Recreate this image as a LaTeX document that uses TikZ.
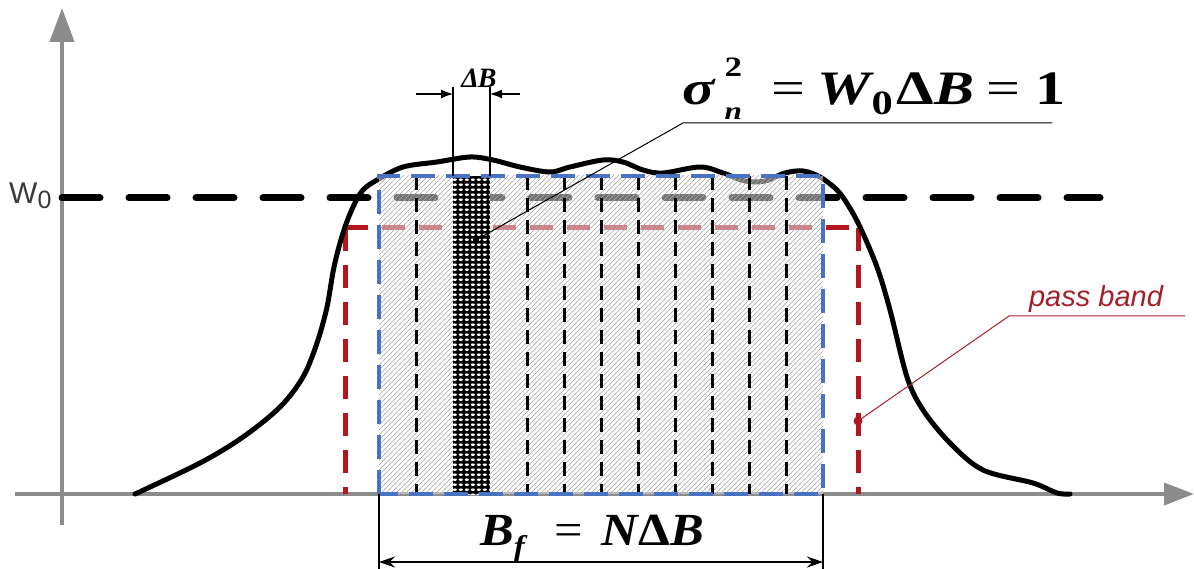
\documentclass[tikz,border=0pt]{standalone}
\usepackage{fontspec}
\setmainfont{Liberation Serif}
\newfontfamily\labfont{Liberation Sans}
\usetikzlibrary{patterns,arrows.meta}

\pgfdeclarepatternformonly{hatchfive}{\pgfqpoint{-1pt}{-1pt}}{\pgfqpoint{6pt}{6pt}}{\pgfqpoint{5pt}{5pt}}{%
  \pgfsetlinewidth{0.7pt}\pgfpathmoveto{\pgfqpoint{-0.5pt}{-0.5pt}}\pgfpathlineto{\pgfqpoint{5.5pt}{5.5pt}}\pgfusepath{stroke}}
\pgfdeclarepatternformonly{banddots}{\pgfqpoint{0pt}{0pt}}{\pgfqpoint{6.2pt}{4.8pt}}{\pgfqpoint{6.2pt}{4.8pt}}{%
  \pgfpathellipse{\pgfqpoint{3.1pt}{2.4pt}}{\pgfqpoint{2.3pt}{0pt}}{\pgfqpoint{0pt}{1.3pt}}\pgfusepath{fill}}

\definecolor{axisgray}{HTML}{8C8C8C}
\definecolor{pbred}{HTML}{B3161F}
\definecolor{txtred}{HTML}{A3202A}
\definecolor{rblue}{HTML}{4A72C2}
\definecolor{wgray}{HTML}{3A3A3A}

\tikzset{
  axisline/.style={axisgray, line width=4},
  wzero/.style={black, line width=7, line cap=round, dash pattern=on 38 off 29},
  redband/.style={pbred, line width=5, dash pattern=on 23 off 14},
  blueband/.style={rblue, line width=3.5, dash pattern=on 24 off 11},
  vdash/.style={black, line width=3, dash pattern=on 14 off 8},
  thinline/.style={black, line width=1.2},
  spectrum/.style={black, line width=5, line join=round, line cap=round},
  formula/.style={inner sep=0, font=\bfseries\itshape},
}

\begin{document}
\begin{tikzpicture}[x=1pt,y=-1pt]
\useasboundingbox (0,0) rectangle (1194,569);

% axes
\coordinate (xs) at (15,494);
\coordinate (xe) at (1194,494);
\coordinate (ys) at (62,525);
\coordinate (ye) at (62,8);
\draw[axisline,-{Triangle[length=30,width=22]}] (xs) -- (xe);
\draw[axisline,-{Triangle[length=34,width=24]}] (ys) -- (ye);

% W0 level
\coordinate (w0s) at (62,198);
\coordinate (w0e) at (1100,198);
\draw[wzero] (w0s) -- (w0e);
\node[anchor=west, text=wgray, inner sep=0] (w0lab) at (9,196)
  {\labfont\fontsize{30}{30}\selectfont W\raisebox{-5pt}{\fontsize{25}{25}\selectfont 0}};

% pass band (red)
\coordinate (pbl0) at (345,494);
\coordinate (pbl1) at (345,228);
\coordinate (pbr1) at (858,228);
\coordinate (pbr0) at (858,494);
\draw[redband] (pbl1) -- (pbl0);
\draw[redband] (pbr1) -- (pbr0);
\draw[redband] (pbl1) -- (pbr1);

% spectrum curve
\draw[spectrum] plot[smooth, tension=0.55] coordinates {
 (135,494) (200,463) (243,437) (280,407) (303,377) (317,343) (327,307)
 (334,267) (343,233) (353,207) (363,190) (377,180) (403,167) (437,162)
 (470,157) (493,160) (520,167) (550,172) (570,167) (603,160) (623,162)
 (643,170) (663,173) (700,167) (723,173) (745,181) (765,181) (785,173)
 (803,171) (820,177) (837,190) (848,205) (860,227) (877,267) (890,310)
 (907,377) (923,410) (950,443) (983,470) (1033,483) (1057,493) (1070,494)};

% filter band area
\coordinate (bfl) at (379,494);
\coordinate (bfr) at (823,176);
\fill[white, opacity=0.45] (bfl) rectangle (bfr);
\fill[pattern=hatchfive, pattern color=black!35] (bfl) rectangle (bfr);

% elementary band
\coordinate (eb0) at (453,494);
\coordinate (eb1) at (490,176);
\fill[black] (eb0) rectangle (eb1);
\fill[pattern=banddots, pattern color=white] (eb0) rectangle (eb1);

% dashed sub-band separators
\foreach \xx in {416,527,564,601,638,675,712,749,786}
  \draw[vdash] (\xx,176) -- (\xx,494);

% blue filter rectangle
\draw[blueband] (379,494) -- (379,176) -- (823,176) -- (823,494) -- cycle;

% Delta B dimension
\coordinate (dbl0) at (453,176);
\coordinate (dbl1) at (453,87);
\coordinate (dbr0) at (490,176);
\coordinate (dbr1) at (490,87);
\draw[thinline] (dbl0) -- (dbl1);
\draw[thinline] (dbr0) -- (dbr1);
\coordinate (dal) at (416,94);
\coordinate (dalt) at (453,94);
\coordinate (dar) at (520,94);
\coordinate (dart) at (490,94);
\draw[thinline,-{Latex[length=12,width=9]}] (dal) -- (dalt);
\draw[thinline,-{Latex[length=12,width=9]}] (dar) -- (dart);
\node[formula] (dblab) at (479,78)
  {\fontsize{28}{28}\selectfont Δ\kern-1pt B};

% sigma formula with leader
\node[formula, anchor=base west] (sig) at (682,105)
  {\scalebox{1.25}[1]{\fontsize{48}{48}\selectfont σ\hspace{8pt}\rlap{\raisebox{28pt}{\fontsize{28}{28}\selectfont\upshape 2}}\raisebox{-15pt}{\fontsize{25}{25}\selectfont n}\hspace{24pt}{\mdseries\upshape =}\hspace{9pt}W\kern1pt\raisebox{-10pt}{\fontsize{34}{34}\selectfont\upshape 0}\hspace{3pt}{\upshape Δ}B\hspace{10pt}{\mdseries\upshape =}\hspace{12pt}{\upshape 1}}};
\coordinate (sigdot) at (476,240);
\coordinate (ul0) at (683,123);
\coordinate (ul1) at (1052,123);
\draw[black, line width=1] (sigdot) -- (ul0) -- (ul1);
\fill[black] (sigdot) circle (3.2);

% pass band label
\node[anchor=base, text=txtred, inner sep=0] (pblab) at (1096,306)
  {\labfont\itshape\fontsize{29}{29}\selectfont pass band};
\coordinate (pu0) at (1009,316);
\coordinate (pu1) at (1185,316);
\coordinate (pdot) at (858,421);
\draw[txtred, line width=1] (pdot) -- (pu0) -- (pu1);
\fill[pbred] (pdot) circle (4.5);

% B_f dimension
\coordinate (bd0) at (379,569);
\coordinate (bd1) at (823,569);
\draw[thinline] (bfl) -- (bd0);
\draw[thinline] (823,494) -- (bd1);
\coordinate (ba0) at (379,562);
\coordinate (ba1) at (823,562);
\draw[thinline,{Stealth[length=16,width=11]}-{Stealth[length=16,width=11]}] (ba0) -- (ba1);
\node[formula, anchor=base west] (bflab) at (480,545)
  {\scalebox{1.1}[1]{\fontsize{46}{46}\selectfont B\raisebox{-11pt}{\fontsize{30}{30}\selectfont f}\hspace{27pt}{\mdseries\upshape =}\hspace{17pt}N{\upshape Δ}B}};
\end{tikzpicture}
\end{document}
